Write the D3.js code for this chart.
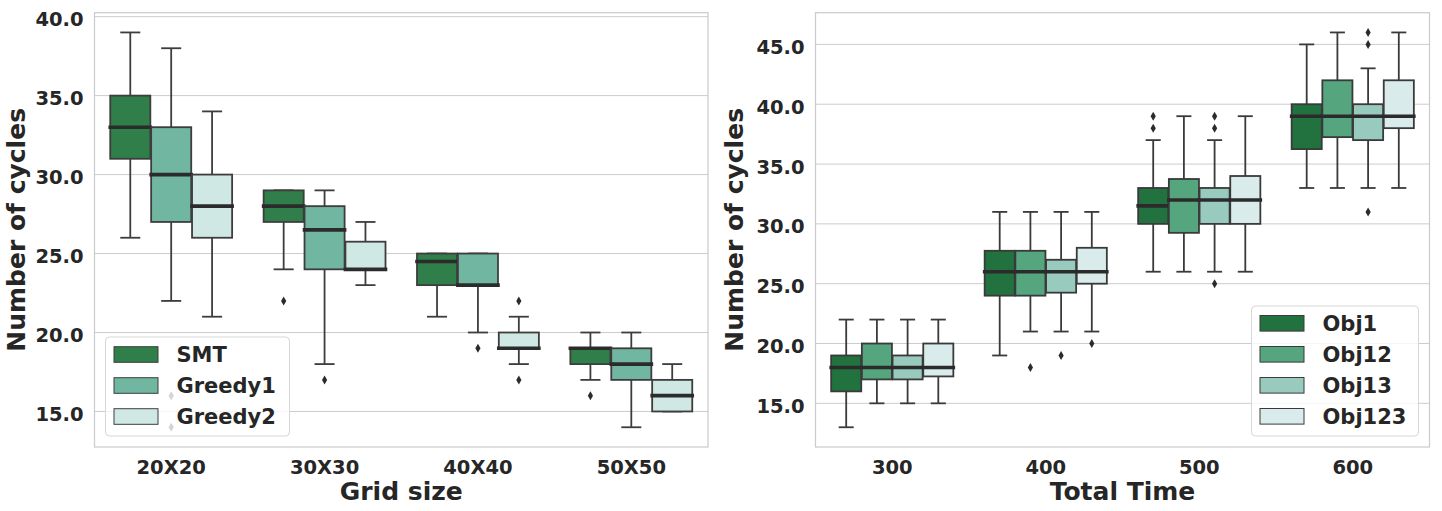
<!DOCTYPE html>
<html>
<head>
<meta charset="utf-8">
<script src="https://cdn.jsdelivr.net/npm/d3@7"></script>
<style>
  body { margin: 0; background: #fff; }
  text { font-family: "DejaVu Sans", sans-serif; font-weight: bold; fill: #262626; }
</style>
</head>
<body>
<svg id="chart" width="1442" height="511"></svg>
<script>
// ---- left panel data: Grid size ----
var gridCats = ["20X20", "30X30", "40X40", "50X50"];
var gridHues = ["SMT", "Greedy1", "Greedy2"];
var gridColors = ["#307e49", "#71b6a0", "#d0e8e4"];
// per hue, per category
var gridLo  = [[26, 24, 21, 17], [22, 18, 20, 14], [21, 23, 18, 15]];
var gridQ1  = [[31, 27, 23, 18], [27, 24, 23, 17], [26, 24, 19, 15]];
var gridMed = [[33, 28, 24.5, 19], [30, 26.5, 23, 18], [28, 24, 19, 16]];
var gridQ3  = [[35, 29, 25, 19], [33, 28, 25, 19], [30, 25.75, 20, 17]];
var gridHi  = [[39, 29, 25, 20], [38, 29, 25, 20], [34, 27, 21, 18]];
var gridOut = [[[], [22], [], [16]], [[16, 14], [17], [19], []], [[], [], [22, 17], []]];
var gridTicks = [15, 20, 25, 30, 35, 40];

// ---- right panel data: Total Time ----
var timeCats = ["300", "400", "500", "600"];
var timeHues = ["Obj1", "Obj12", "Obj13", "Obj123"];
var timeColors = ["#22723f", "#55a57f", "#98cbbe", "#d9eceb"];
var timeLo  = [[13, 19, 26, 33], [15, 21, 26, 33], [15, 21, 26, 33], [15, 21, 26, 33]];
var timeQ1  = [[16, 24, 30, 36.25], [17, 24, 29.25, 37.25], [17, 24.25, 30, 37], [17.25, 25, 30, 38]];
var timeMed = [[18, 26, 31.5, 39], [18, 26, 32, 39], [18, 26, 32, 39], [18, 26, 32, 39]];
var timeQ3  = [[19, 27.75, 33, 40], [20, 27.75, 33.75, 42], [19, 27, 33, 40], [20, 28, 34, 42]];
var timeHi  = [[22, 31, 37, 45], [22, 31, 39, 46], [22, 31, 37, 43], [22, 31, 39, 46]];
var timeOut = [[[], [], [39, 38], []], [[], [18], [], []], [[], [19], [39, 38, 25], [46, 45, 31]], [[], [20], [], []]];
var timeTicks = [15, 20, 25, 30, 35, 40, 45];

var svg = d3.select("#chart");
var top_ = 12.7, bottom = 447;

function panel(opt) {
  var g = svg.append("g");
  var x = d3.scaleBand().domain(opt.cats).range([opt.x0, opt.x1]).padding(0);
  var y = d3.scaleLinear().domain(opt.ydom).range([bottom, top_]);
  var nh = opt.hues.length;
  var groupW = x.bandwidth() * 0.8;
  var hueW = groupW / nh;
  var boxW = hueW * 0.98;
  var gray = opt.gray;

  // grid
  g.selectAll(".grid").data(opt.ticks).enter().append("line")
    .attr("x1", opt.x0).attr("x2", opt.x1)
    .attr("y1", function(d) { return y(d); }).attr("y2", function(d) { return y(d); })
    .attr("stroke", "#cccccc").attr("stroke-width", 1);

  // frame
  g.append("rect").attr("x", opt.x0).attr("y", top_)
    .attr("width", opt.x1 - opt.x0).attr("height", bottom - top_)
    .attr("fill", "none").attr("stroke", "#cccccc").attr("stroke-width", 1.25);

  opt.hues.forEach(function(h, hi) {
    opt.cats.forEach(function(c, ci) {
      var cx = x(c) + x.bandwidth() / 2 - groupW / 2 + hueW * (hi + 0.5);
      var b = g.append("g");
      // whiskers
      b.append("line").attr("x1", cx).attr("x2", cx)
        .attr("y1", y(opt.lo[hi][ci])).attr("y2", y(opt.q1[hi][ci]))
        .attr("stroke", gray).attr("stroke-width", 1.8);
      b.append("line").attr("x1", cx).attr("x2", cx)
        .attr("y1", y(opt.q3[hi][ci])).attr("y2", y(opt.hi[hi][ci]))
        .attr("stroke", gray).attr("stroke-width", 1.8);
      // caps
      [opt.lo[hi][ci], opt.hi[hi][ci]].forEach(function(v) {
        b.append("line").attr("x1", cx - boxW / 4).attr("x2", cx + boxW / 4)
          .attr("y1", y(v)).attr("y2", y(v))
          .attr("stroke", gray).attr("stroke-width", 1.8);
      });
      // box
      b.append("rect").attr("x", cx - boxW / 2).attr("y", y(opt.q3[hi][ci]))
        .attr("width", boxW).attr("height", Math.max(0.01, y(opt.q1[hi][ci]) - y(opt.q3[hi][ci])))
        .attr("fill", opt.colors[hi]).attr("stroke", gray).attr("stroke-width", 1.8);
      // median
      b.append("line").attr("x1", cx - boxW / 2).attr("x2", cx + boxW / 2)
        .attr("y1", y(opt.med[hi][ci])).attr("y2", y(opt.med[hi][ci]))
        .attr("stroke", "#2b2b2b").attr("stroke-width", 3.6).attr("stroke-linecap", "square");
      // outliers
      b.selectAll(".flier").data(opt.out[hi][ci]).enter().append("path")
        .attr("d", function(d) {
          var yy = y(d);
          return "M" + cx + "," + (yy - 4.5) + "L" + (cx + 2.6) + "," + yy + "L" + cx + "," + (yy + 4.5) + "L" + (cx - 2.6) + "," + yy + "Z";
        })
        .attr("fill", "#2b2b2b");
    });
  });

  // y tick labels
  g.selectAll(".ytl").data(opt.ticks).enter().append("text")
    .attr("x", opt.x0 - 11).attr("y", function(d) { return y(d) + 2.5; })
    .attr("dy", "0.36em").attr("text-anchor", "end")
    .style("font-size", "19.5px")
    .text(function(d) { return d3.format(".1f")(d); });

  // x tick labels
  g.selectAll(".xtl").data(opt.cats).enter().append("text")
    .attr("x", function(d) { return x(d) + x.bandwidth() / 2; }).attr("y", 473.5)
    .attr("text-anchor", "middle").style("font-size", "19.5px")
    .text(function(d) { return d; });

  // axis labels
  g.append("text").attr("x", (opt.x0 + opt.x1) / 2).attr("y", 500)
    .attr("text-anchor", "middle").style("font-size", "25px").text(opt.xlabel);
  g.append("text")
    .attr("transform", "translate(" + opt.ylabelX + "," + (top_ + bottom) / 2 + ") rotate(-90)")
    .attr("text-anchor", "middle").style("font-size", "25px").text("Number of cycles");

  // legend
  var lg = g.append("g");
  lg.append("rect").attr("x", opt.leg[0]).attr("y", opt.leg[1])
    .attr("width", opt.leg[2]).attr("height", opt.leg[3]).attr("rx", 4)
    .attr("fill", "#ffffff").attr("fill-opacity", 0.8)
    .attr("stroke", "#d6d6d6").attr("stroke-width", 1);
  opt.hues.forEach(function(h, hi) {
    var ly = opt.legFirst + hi * 31;
    lg.append("rect").attr("x", opt.leg[0] + 8.5).attr("y", ly)
      .attr("width", 44).attr("height", 15.6)
      .attr("fill", opt.colors[hi]).attr("stroke", gray).attr("stroke-width", 1);
    lg.append("text").attr("x", opt.leg[0] + 71).attr("y", ly + 7.8)
      .attr("dy", "0.36em").style("font-size", "21px").text(h);
  });
}

panel({
  cats: gridCats, hues: gridHues, colors: gridColors,
  lo: gridLo, q1: gridQ1, med: gridMed, q3: gridQ3, hi: gridHi, out: gridOut,
  ticks: gridTicks, ydom: [12.75, 40.25], x0: 94.5, x1: 708,
  gray: "#3d3d3d", xlabel: "Grid size", ylabelX: 25,
  leg: [105.5, 337, 184, 99], legFirst: 346.7
});

panel({
  cats: timeCats, hues: timeHues, colors: timeColors,
  lo: timeLo, q1: timeQ1, med: timeMed, q3: timeQ3, hi: timeHi, out: timeOut,
  ticks: timeTicks, ydom: [11.35, 47.65], x0: 815.5, x1: 1429.5,
  gray: "#3a3a3a", xlabel: "Total Time", ylabelX: 743,
  leg: [1251.5, 306, 167, 130], legFirst: 315.5
});
</script>
</body>
</html>
